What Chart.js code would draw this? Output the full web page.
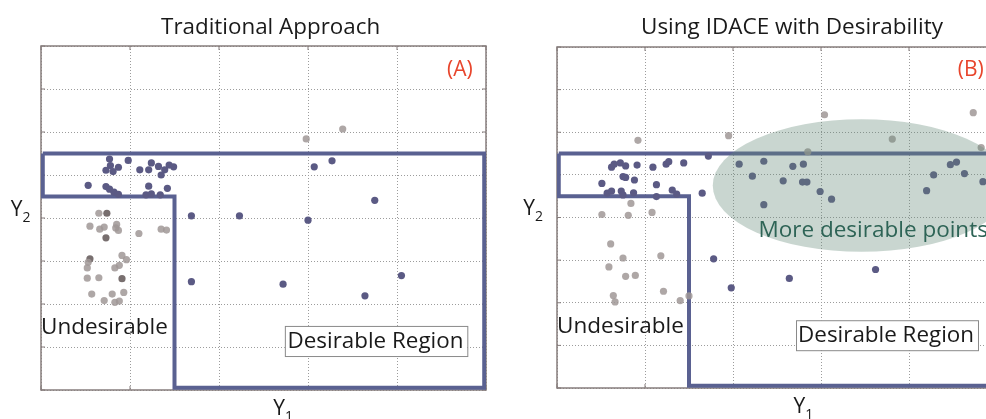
<!DOCTYPE html>
<html>
<head>
<meta charset="utf-8">
<script src="https://cdn.jsdelivr.net/npm/chart.js@4.4.0/dist/chart.umd.min.js"></script>
<style>
html, body { margin:0; padding:0; background:#fff; overflow:hidden; width:986px; height:419px; }
.panel { position:absolute; top:0; height:419px; }
#panelA { left:0; width:500px; }
#panelB { left:500px; width:510px; }
</style>
</head>
<body>
<div class="panel" id="panelA"><canvas id="graphA"></canvas></div>
<div class="panel" id="panelB"><canvas id="graphB"></canvas></div>
<script>
// datos panel A (enfoque tradicional)
const a_sel_x = [0.77,0.98,0.78,0.87,0.73,0.81,1.11,1.21,1.24,1.32,1.39,1.44,1.49,1.35,0.53,0.73,0.77,0.82,0.87,1.21,1.42,1.18,1.24,1.34,1.69,2.23,3.00,3.75,3.07,3.27,1.69,2.72,3.64,4.05];
const a_sel_y = [5.37,5.34,5.22,5.18,5.11,5.08,5.12,5.12,5.28,5.20,5.12,5.23,5.19,5.00,4.76,4.73,4.67,4.60,4.55,4.74,4.69,4.54,4.56,4.54,4.05,4.05,3.95,4.41,5.19,5.33,2.52,2.46,2.19,2.66];
const a_rej_x = [2.98,3.39,0.65,0.55,0.66,0.71,0.85,0.84,0.87,1.10,1.35,1.41,0.53,0.91,0.96,0.88,0.83,0.52,0.52,0.65,0.57,0.71,0.80,0.93,0.83,0.88];
const a_rej_y = [5.84,6.07,4.11,3.81,3.74,3.79,3.85,3.77,3.71,3.64,3.74,3.72,2.97,3.13,3.03,2.90,2.84,2.84,2.60,2.61,2.23,2.08,2.23,2.27,2.04,2.07];
const a_dark_x = [0.74,0.73,0.55,0.91];
const a_dark_y = [4.11,3.54,3.05,2.59];

// datos panel B (IDACE con deseabilidad)
const b_sel_x = [0.62,0.65,0.72,0.78,0.91,1.09,1.24,1.27,1.44,1.72,0.75,0.78,0.88,0.51,1.13,0.57,0.62,0.73,0.75,0.87,1.13,1.31,1.36,1.65,2.07,2.35,2.22,2.57,2.68,2.80,2.79,2.84,2.99,3.12,2.35,4.20,4.28,4.47,4.54,4.63,4.84,1.78,1.98,2.64,3.62];
const b_sel_y = [5.18,5.25,5.28,5.21,5.23,5.18,5.25,5.31,5.28,5.44,4.96,4.94,4.88,4.80,4.77,4.57,4.62,4.62,4.53,4.58,4.49,4.64,4.55,4.57,5.25,5.32,4.97,4.86,5.20,5.25,4.83,4.83,4.61,4.43,4.30,4.63,5.00,5.24,5.30,5.03,4.84,3.03,2.35,2.57,2.78];
const b_rej_x = [0.92,1.95,3.04,3.81,4.73,4.82,2.85,0.84,0.51,0.81,1.08,0.61,0.75,1.18,0.59,0.78,0.89,1.21,0.64,0.66,1.40,1.50];
const b_rej_y = [5.81,5.92,6.41,5.84,6.46,5.64,5.54,4.33,4.07,4.05,4.12,3.38,3.05,3.10,2.84,2.62,2.64,2.27,2.17,2.02,2.05,2.16];

// limite de la region deseable (igual en ambos)
const box_x = [0.02,4.98,4.98,1.5,1.5,0.02,0.02];
const box_y = [5.5,5.5,0.05,0.05,4.5,4.5,5.5];

// ejes
const x_ticks = [0,1,2,3,4,5];
const y_ticks = [0,1,2,3,4,5,6,7,8];

const fuente = '"Open Sans", "Noto Sans", "DejaVu Sans", sans-serif';
const col_sel = '#5b5a84';
const col_rej = 'rgba(160,152,150,0.85)';
const col_dark = '#786f6f';
const col_box = '#5a6191';
const col_marco = '#867d7c';

const puntos = (xs, ys) => xs.map((x, i) => ({x, y: ys[i]}));

// marco del grafico con marcas hacia adentro
const marco = {
    id: 'marco',
    beforeDatasetsDraw(chart) {
        const {ctx, chartArea: ca} = chart;
        const sx = chart.scales.x, sy = chart.scales.y;
        ctx.save();
        ctx.strokeStyle = col_marco;
        ctx.lineWidth = 1.5;
        ctx.strokeRect(ca.left, ca.top, ca.width, ca.height);
        ctx.lineWidth = 1;
        ctx.beginPath();
        x_ticks.forEach(v => {
            const p = sx.getPixelForValue(v);
            ctx.moveTo(p, ca.bottom); ctx.lineTo(p, ca.bottom - 4);
            ctx.moveTo(p, ca.top); ctx.lineTo(p, ca.top + 4);
        });
        y_ticks.forEach(v => {
            const p = sy.getPixelForValue(v);
            ctx.moveTo(ca.left, p); ctx.lineTo(ca.left + 4, p);
            ctx.moveTo(ca.right, p); ctx.lineTo(ca.right - 4, p);
        });
        ctx.stroke();
        ctx.restore();
    }
};

const anotaciones = {
    id: 'anotaciones',
    afterDatasetsDraw(chart, args, opts) {
        if (!opts.elipse) return;
        const {ctx} = chart;
        const sx = chart.scales.x, sy = chart.scales.y;
        const e = opts.elipse;
        const cx = sx.getPixelForValue(e.cx), cy = sy.getPixelForValue(e.cy);
        const rx = sx.getPixelForValue(e.cx + e.rx) - cx;
        const ry = cy - sy.getPixelForValue(e.cy + e.ry);
        ctx.save();
        ctx.fillStyle = e.color;
        ctx.beginPath();
        ctx.ellipse(cx, cy, rx, ry, 0, 0, 2 * Math.PI);
        ctx.fill();
        ctx.restore();
    },
    afterDraw(chart, args, opts) {
        const {ctx} = chart;
        const sx = chart.scales.x, sy = chart.scales.y;
        (opts.notas || []).forEach(n => {
            ctx.save();
            ctx.font = n.size + 'px ' + fuente;
            ctx.textBaseline = 'alphabetic';
            let px = sx.getPixelForValue(n.x);
            const py = sy.getPixelForValue(n.y);
            if (n.caja) {
                const x0 = sx.getPixelForValue(n.caja[0]), x1 = sx.getPixelForValue(n.caja[1]);
                const y0 = sy.getPixelForValue(n.caja[2]), y1 = sy.getPixelForValue(n.caja[3]);
                ctx.fillStyle = '#fff';
                ctx.fillRect(x0, y0, x1 - x0, y1 - y0);
                ctx.strokeStyle = '#8a8a8a';
                ctx.lineWidth = 1;
                ctx.strokeRect(x0 + 0.5, y0 + 0.5, x1 - x0, y1 - y0);
            }
            ctx.fillStyle = n.color || '#1a1a1a';
            if (n.sub) {
                // letra con subindice
                const w1 = ctx.measureText(n.text).width;
                const sub_font = Math.round(n.size * 0.65) + 'px ' + fuente;
                ctx.font = sub_font;
                const w2 = ctx.measureText(n.sub).width;
                px = px - (w1 + w2) / 2;
                ctx.font = n.size + 'px ' + fuente;
                ctx.textAlign = 'left';
                ctx.fillText(n.text, px, py);
                ctx.font = sub_font;
                ctx.fillText(n.sub, px + w1, py + n.size * 0.28);
            } else {
                ctx.textAlign = n.align || 'left';
                ctx.fillText(n.text, px, py);
            }
            ctx.restore();
        });
    }
};

const escala = (max) => ({
    type: 'linear',
    min: 0,
    max: max,
    afterBuildTicks: (s) => { s.ticks = (max === 5 ? x_ticks : y_ticks).map(v => ({value: v})); },
    ticks: { display: false },
    grid: { color: '#9c9c9c', lineWidth: 1, drawTicks: false },
    border: { display: false, dash: [1, 2] }
});

const crear_grafico = (id, series, padding, notas, elipse) => {
    const datasets = [
        {
            data: puntos(box_x, box_y),
            showLine: true,
            borderColor: col_box,
            borderWidth: 4,
            borderJoinStyle: 'miter',
            pointRadius: 0,
            order: 3
        }
    ];
    series.forEach(s => datasets.push({
        data: puntos(s.x, s.y),
        backgroundColor: s.color,
        borderWidth: 0,
        pointRadius: 3.6,
        order: 1
    }));
    return new Chart(document.getElementById(id), {
        type: 'scatter',
        data: { datasets },
        options: {
            responsive: true,
            maintainAspectRatio: false,
            animation: false,
            layout: { padding },
            plugins: {
                legend: { display: false },
                tooltip: { enabled: false },
                anotaciones: { notas, elipse }
            },
            scales: { x: escala(5), y: escala(8) }
        },
        plugins: [marco, anotaciones]
    });
};

crear_grafico('graphA', [
    { x: a_rej_x, y: a_rej_y, color: col_rej },
    { x: a_dark_x, y: a_dark_y, color: col_dark },
    { x: a_sel_x, y: a_sel_y, color: col_sel }
], { left: 41, right: 14, top: 46, bottom: 29 }, [
    { text: 'Traditional Approach', x: 2.58, y: 8.28, size: 22.4, align: 'center' },
    { text: '(A)', x: 4.85, y: 7.30, size: 21, align: 'right', color: '#e8452c' },
    { text: 'Undesirable', x: 0.0, y: 1.30, size: 22.5 },
    { text: 'Desirable Region', x: 2.77, y: 0.98, size: 22.4, caja: [2.74, 4.79, 1.49, 0.79] },
    { text: 'Y', sub: '1', x: 2.72, y: -0.58, size: 21 },
    { text: 'Y', sub: '2', x: -0.23, y: 4.05, size: 21 }
], null);

crear_grafico('graphB', [
    { x: b_rej_x, y: b_rej_y, color: col_rej },
    { x: b_sel_x, y: b_sel_y, color: col_sel }
], { left: 57, right: 13, top: 47, bottom: 31 }, [
    { text: 'Using IDACE with Desirability', x: 2.67, y: 8.31, size: 22.5, align: 'center' },
    { text: '(B)', x: 4.85, y: 7.32, size: 21, align: 'right', color: '#e8452c' },
    { text: 'More desirable points', x: 2.29, y: 3.55, size: 22.5, color: '#2e6456' },
    { text: 'Undesirable', x: 0.0, y: 1.29, size: 22.5 },
    { text: 'Desirable Region', x: 2.74, y: 1.08, size: 22.4, caja: [2.716, 4.784, 1.59, 0.887] },
    { text: 'Y', sub: '1', x: 2.80, y: -0.58, size: 21 },
    { text: 'Y', sub: '2', x: -0.27, y: 4.05, size: 21 }
], { cx: 3.46, cy: 4.75, rx: 1.69, ry: 1.556, color: 'rgba(101,138,121,0.35)' });
</script>
</body>
</html>
